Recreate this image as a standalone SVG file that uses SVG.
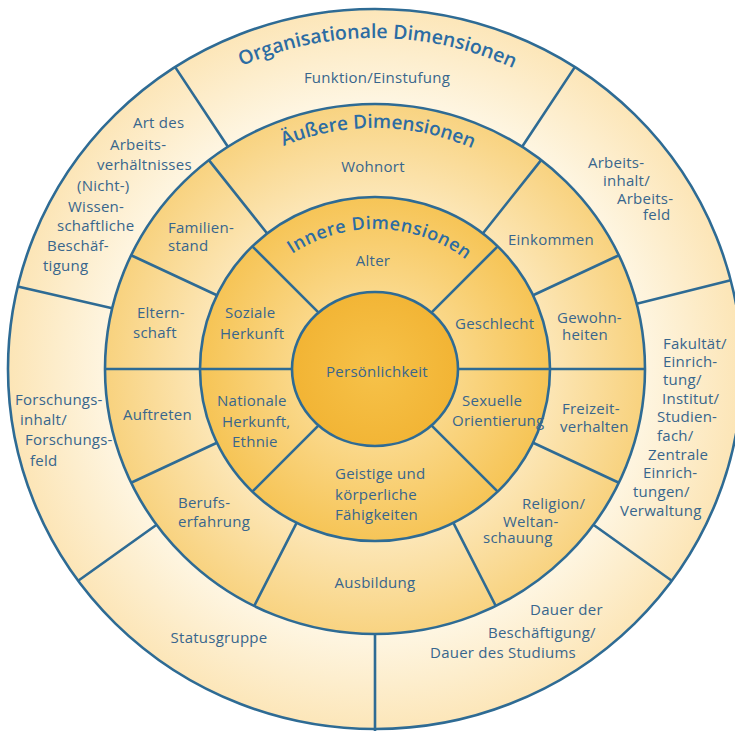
<svg xmlns="http://www.w3.org/2000/svg" width="735" height="731" viewBox="0 0 735 731">
  <defs>
    <style>
      .ring { stroke: #2E6B94; stroke-width: 2.6; }
      .div { stroke: #2E6B94; stroke-width: 2.6; fill: none; stroke-linecap: butt; }
      .lbl { font-family: "Open Sans", "Noto Sans", "DejaVu Sans", sans-serif; font-size: 15px; letter-spacing: 0.25px; fill: #38668D; }
      .mid { text-anchor: middle; }
      .ttl { font-family: "Open Sans", "Noto Sans", "DejaVu Sans", sans-serif; font-weight: 600; fill: #2C6CA3; }
    </style>
    <radialGradient id="gOrg" gradientUnits="userSpaceOnUse" cx="375" cy="369" r="367">
      <stop offset="0.72" stop-color="#FEF6E3"/>
      <stop offset="1" stop-color="#FCE5B6"/>
    </radialGradient>
    <radialGradient id="gAus" gradientUnits="userSpaceOnUse" cx="375" cy="369" r="270">
      <stop offset="0.64" stop-color="#FCE6B6"/>
      <stop offset="1" stop-color="#F8D27E"/>
    </radialGradient>
    <radialGradient id="gInn" gradientUnits="userSpaceOnUse" cx="375" cy="369" r="175">
      <stop offset="0.45" stop-color="#FAD88A"/>
      <stop offset="1" stop-color="#F6C455"/>
    </radialGradient>
    <radialGradient id="gCore" gradientUnits="userSpaceOnUse" cx="375" cy="369" r="83">
      <stop offset="0" stop-color="#F6C24A"/>
      <stop offset="1" stop-color="#F2B434"/>
    </radialGradient>
    <path id="arcOrg" d="M 44,369 A 331 331 0 0 1 706,369"/>
    <path id="arcAus" d="M 134,369 A 241 241 0 0 1 616,369"/>
    <path id="arcInn" d="M 225,379 A 150 150 0 0 1 525,379"/>
  </defs>

  <rect width="735" height="731" fill="#FFFFFF"/>

  <!-- concentric rings -->
  <g id="ring-organisational">
    <ellipse class="ring" cx="375" cy="369" rx="367" ry="360" fill="url(#gOrg)"/>
  </g>
  <g id="ring-outer">
    <ellipse class="ring" cx="375" cy="369" rx="270" ry="265" fill="url(#gAus)"/>
  </g>
  <g id="ring-inner">
    <ellipse class="ring" cx="375" cy="369" rx="175" ry="172" fill="url(#gInn)"/>
  </g>
  <g id="core">
    <ellipse class="ring" cx="375" cy="369" rx="83" ry="77" fill="url(#gCore)"/>
  </g>

  <!-- segment dividers -->
  <g id="connectors">
    <path class="div" d="M 292,369 L 105,369 M 458,369 L 645,369"/>
    <path class="div" d="M 431.4,312.6 L 497.7,246.3 M 318.6,312.6 L 252.3,246.3 M 318.6,425.4 L 252.3,491.7 M 431.4,425.4 L 497.7,491.7"/>
    <path class="div" d="M 533.1,295.3 L 618.9,255.3 M 216.9,295.3 L 131.1,255.3 M 216.9,442.7 L 131.1,482.7 M 533.1,442.7 L 618.9,482.7"/>
    <path class="div" d="M 482.8,233.5 L 541.1,160.1 M 267.2,233.5 L 208.9,160.1 M 296.6,522.8 L 254.2,606 M 453.4,522.8 L 495.8,606"/>
    <path class="div" d="M 636.7,303.8 L 730.7,280.3 M 112.2,308.3 L 17.7,286.5 M 522.1,146.8 L 574.8,67.1 M 227.9,146.8 L 175.2,67.1"/>
    <path class="div" d="M 593.4,524.8 L 671.8,580.7 M 156.6,524.8 L 78.2,580.7 M 375,634 L 375,731"/>
  </g>

  <!-- ring titles -->
  <g id="title-organisational">
    <text class="ttl" font-size="19.5"><textPath href="#arcOrg" startOffset="522.4" text-anchor="middle">Organisationale Dimensionen</textPath></text>
  </g>
  <g id="title-outer">
    <text class="ttl" font-size="19"><textPath href="#arcAus" startOffset="381.6" text-anchor="middle">Äußere Dimensionen</textPath></text>
  </g>
  <g id="title-inner">
    <text class="ttl" font-size="18" letter-spacing="0.5"><textPath href="#arcInn" startOffset="240.6" text-anchor="middle">Innere Dimensionen</textPath></text>
  </g>

  <!-- organisational dimensions -->
  <g id="funktion"><text class="lbl mid" x="377" y="83">Funktion/Einstufung</text></g>
  <g id="arbeitsinhalt">
    <text class="lbl" x="588" y="168">Arbeits-</text>
    <text class="lbl" x="603" y="186">inhalt/</text>
    <text class="lbl" x="617" y="204">Arbeits-</text>
    <text class="lbl" x="643" y="220">feld</text>
  </g>
  <g id="fakultaet">
    <text class="lbl" x="663" y="349">Fakultät/</text>
    <text class="lbl" x="663" y="367">Einrich-</text>
    <text class="lbl" x="663" y="385">tung/</text>
    <text class="lbl" x="662" y="404">Institut/</text>
    <text class="lbl" x="657" y="422">Studien-</text>
    <text class="lbl" x="657" y="441">fach/</text>
    <text class="lbl" x="648" y="460">Zentrale</text>
    <text class="lbl" x="643" y="478">Einrich-</text>
    <text class="lbl" x="633" y="497">tungen/</text>
    <text class="lbl" x="620" y="516">Verwaltung</text>
  </g>
  <g id="dauer">
    <text class="lbl" x="530" y="615">Dauer der</text>
    <text class="lbl" x="488" y="638">Beschäftigung/</text>
    <text class="lbl" x="430" y="658">Dauer des Studiums</text>
  </g>
  <g id="statusgruppe"><text class="lbl mid" x="219" y="643">Statusgruppe</text></g>
  <g id="forschungsinhalt">
    <text class="lbl" x="15" y="405">Forschungs-</text>
    <text class="lbl" x="20" y="425">inhalt/</text>
    <text class="lbl" x="25" y="445">Forschungs-</text>
    <text class="lbl" x="30" y="466">feld</text>
  </g>
  <g id="arbeitsverhaeltnis">
    <text class="lbl" x="133" y="128">Art des</text>
    <text class="lbl" x="110" y="150">Arbeits-</text>
    <text class="lbl" x="97" y="170">verhältnisses</text>
    <text class="lbl" x="77" y="191">(Nicht-)</text>
    <text class="lbl" x="68" y="212">Wissen-</text>
    <text class="lbl" x="57" y="231">schaftliche</text>
    <text class="lbl" x="47" y="251">Beschäf-</text>
    <text class="lbl" x="43" y="271">tigung</text>
  </g>

  <!-- outer dimensions -->
  <g id="wohnort"><text class="lbl mid" x="373" y="172">Wohnort</text></g>
  <g id="einkommen"><text class="lbl" x="508" y="245">Einkommen</text></g>
  <g id="gewohnheiten">
    <text class="lbl" x="557" y="323">Gewohn-</text>
    <text class="lbl" x="562" y="340">heiten</text>
  </g>
  <g id="freizeit">
    <text class="lbl" x="562" y="414">Freizeit-</text>
    <text class="lbl" x="560" y="432">verhalten</text>
  </g>
  <g id="religion">
    <text class="lbl" x="522" y="509">Religion/</text>
    <text class="lbl" x="503" y="527">Weltan-</text>
    <text class="lbl" x="483" y="543">schauung</text>
  </g>
  <g id="ausbildung"><text class="lbl mid" x="375" y="588">Ausbildung</text></g>
  <g id="berufserfahrung">
    <text class="lbl" x="178" y="508">Berufs-</text>
    <text class="lbl" x="178" y="527">erfahrung</text>
  </g>
  <g id="auftreten"><text class="lbl" x="123" y="420">Auftreten</text></g>
  <g id="elternschaft">
    <text class="lbl" x="137" y="318">Eltern-</text>
    <text class="lbl" x="133" y="338">schaft</text>
  </g>
  <g id="familienstand">
    <text class="lbl" x="168" y="233">Familien-</text>
    <text class="lbl" x="168" y="251">stand</text>
  </g>

  <!-- inner dimensions -->
  <g id="alter"><text class="lbl mid" x="373" y="266">Alter</text></g>
  <g id="geschlecht"><text class="lbl" x="455" y="329">Geschlecht</text></g>
  <g id="sexuelle-orientierung">
    <text class="lbl" x="462" y="406" font-size="14" letter-spacing="0">Sexuelle</text>
    <text class="lbl" x="452" y="426" font-size="14" letter-spacing="0">Orientierung</text>
  </g>
  <g id="faehigkeiten">
    <text class="lbl" x="335" y="479">Geistige und</text>
    <text class="lbl" x="335" y="500">körperliche</text>
    <text class="lbl" x="335" y="520">Fähigkeiten</text>
  </g>
  <g id="nationale-herkunft">
    <text class="lbl" x="217" y="406">Nationale</text>
    <text class="lbl" x="222" y="427">Herkunft,</text>
    <text class="lbl" x="232" y="447">Ethnie</text>
  </g>
  <g id="soziale-herkunft">
    <text class="lbl" x="225" y="318">Soziale</text>
    <text class="lbl" x="220" y="339">Herkunft</text>
  </g>

  <!-- core -->
  <g id="persoenlichkeit"><text class="lbl mid" x="377" y="377" font-size="19" letter-spacing="0">Persönlichkeit</text></g>
</svg>
